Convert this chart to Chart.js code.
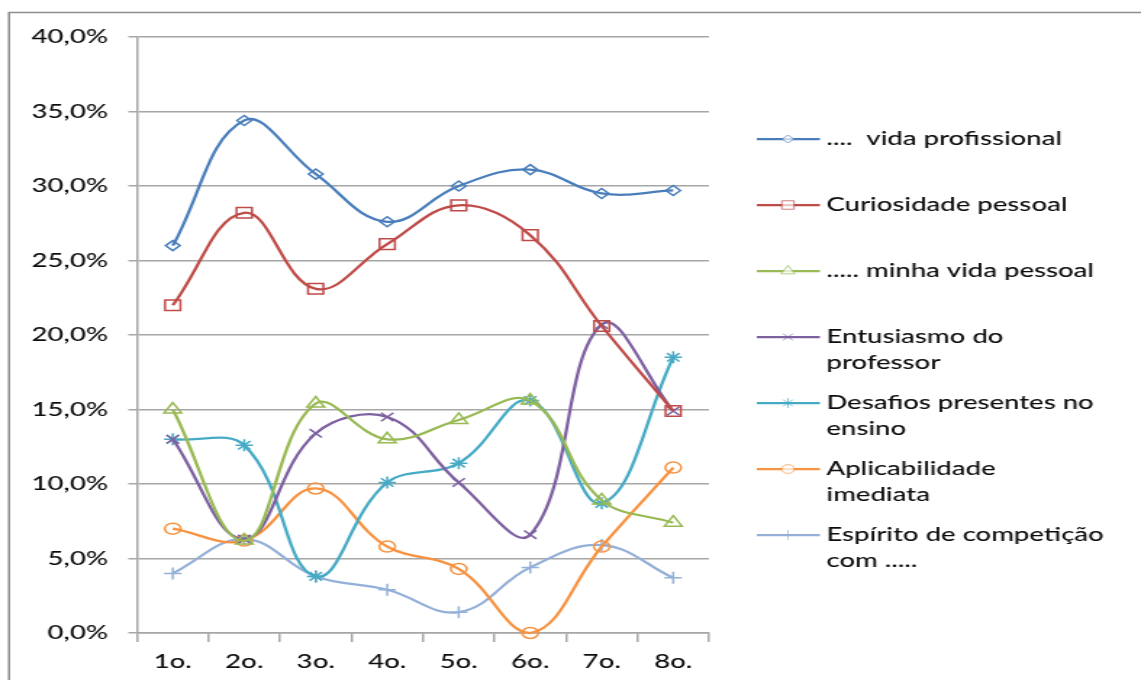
<!DOCTYPE html>
<html>
<head>
<meta charset="utf-8">
<script src="https://cdn.jsdelivr.net/npm/chart.js@4.4.0/dist/chart.umd.min.js"></script>
<style>
  html, body { margin: 0; padding: 0; background: #fff; overflow: hidden; }
  /* the reference is a horizontally stretched picture, so draw narrow and stretch */
  #wrap { width: 787px; height: 680px; transform: scaleX(1.4498); transform-origin: 0 0; }
</style>
</head>
<body>
<div id="wrap"><canvas id="myChart" width="787" height="680"></canvas></div>
<script>
const categories = ['1o.', '2o.', '3o.', '4o.', '5o.', '6o.', '7o.', '8o.'];

const vidaProfissional = [26.0, 34.4, 30.8, 27.6, 30.0, 31.1, 29.5, 29.7];
const curiosidade      = [22.0, 28.2, 23.1, 26.1, 28.7, 26.7, 20.6, 14.9];
const vidaPessoal      = [15.0, 6.2, 15.4, 13.0, 14.3, 15.6, 8.9, 7.4];
const entusiasmo       = [13.0, 6.3, 13.4, 14.5, 10.1, 6.6, 20.7, 14.9];
const desafios         = [13.0, 12.6, 3.8, 10.1, 11.4, 15.6, 8.7, 18.5];
const aplicabilidade   = [7.0, 6.2, 9.7, 5.8, 4.3, 0.0, 5.8, 11.1];
const espirito         = [4.0, 6.3, 3.8, 2.9, 1.4, 4.4, 5.9, 3.7];

const seriesNames = [
  '....  vida profissional',
  'Curiosidade pessoal',
  '..... minha vida pessoal',
  'Entusiasmo do\nprofessor',
  'Desafios presentes no\nensino',
  'Aplicabilidade\nimediata',
  'Espírito de competição\ncom .....'
];

const FONT = 'Lato';
const textColor = '#0d0d0d';
const gridColor = '#a6a6a6';

function series(label, data, color, pointStyle, radius) {
  return {
    label: label,
    data: data,
    borderColor: color,
    backgroundColor: color,
    borderWidth: 2.25,
    pointStyle: pointStyle,
    pointRadius: radius,
    pointBorderWidth: 1.5,
    pointBorderColor: color,
    pointBackgroundColor: 'rgba(255,255,255,0)',
    tension: 0.4,
    fill: false,
    clip: false
  };
}

const datasets = [
  series(seriesNames[0], vidaProfissional, '#4a7ebb', 'rectRot', 5),
  series(seriesNames[1], curiosidade, '#be4b48', 'rect', 7.5),
  series(seriesNames[2], vidaPessoal, '#98b954', 'triangle', 7),
  series(seriesNames[3], entusiasmo, '#7d60a0', 'crossRot', 6),
  series(seriesNames[4], desafios, '#46aac5', 'star', 6),
  series(seriesNames[5], aplicabilidade, '#f69240', 'circle', 5.5),
  series(seriesNames[6], espirito, '#94b0d8', 'cross', 6)
];

// grey frame on the top and left edge
const framePlugin = {
  id: 'frame',
  beforeDraw(chart) {
    const ctx = chart.ctx;
    ctx.save();
    ctx.strokeStyle = '#8c8c8c';
    ctx.lineWidth = 1.5;
    ctx.beginPath();
    ctx.moveTo(6.2, chart.height);
    ctx.lineTo(6.2, 12.5);
    ctx.lineTo(chart.width, 12.5);
    ctx.stroke();
    ctx.restore();
  }
};

// legend on the right, with wrapped labels
const sideLegend = {
  id: 'sideLegend',
  afterDraw(chart) {
    const ctx = chart.ctx;
    ctx.save();
    ctx.font = '500 19px ' + FONT;
    ctx.textBaseline = 'middle';
    chart.data.datasets.forEach((ds, i) => {
      const y = 139 + i * 66;
      ctx.strokeStyle = ds.borderColor;
      ctx.lineWidth = 2.25;
      ctx.beginPath();
      ctx.moveTo(522, y);
      ctx.lineTo(565.5, y);
      ctx.stroke();
      ctx.globalAlpha = 0.7;
      ctx.fillStyle = '#ffffff';
      ctx.lineWidth = 1;
      Chart.helpers.drawPoint(ctx, { pointStyle: ds.pointStyle, radius: ds.pointRadius * 0.8, borderWidth: 1 }, 543.5, y);
      ctx.globalAlpha = 1;
      ctx.fillStyle = textColor;
      ds.label.split('\n').forEach((t, k) => ctx.fillText(t, 570, y + k * 25.5));
    });
    ctx.restore();
  }
};

new Chart(document.getElementById('myChart'), {
  type: 'line',
  data: { labels: categories, datasets: datasets },
  options: {
    responsive: false,
    animation: false,
    layout: { padding: { left: 0, right: 298, top: 37, bottom: 0 } },
    plugins: {
      legend: { display: false },
      tooltip: { enabled: false }
    },
    scales: {
      x: {
        offset: true,
        grid: { drawOnChartArea: false, drawTicks: true, tickLength: 9, color: gridColor, lineWidth: 1.5, offset: true },
        border: { color: gridColor, width: 1.5 },
        ticks: { padding: 8, color: textColor, font: { family: FONT, size: 19, weight: 500 } },
        afterFit: s => { s.height = 47; }
      },
      y: {
        min: 0,
        max: 40,
        ticks: {
          stepSize: 5,
          padding: 14,
          color: textColor,
          font: { family: FONT, size: 19, weight: 500 },
          callback: v => v.toFixed(1).replace('.', ',') + '%'
        },
        grid: { color: gridColor, lineWidth: 1.5, tickLength: 6 },
        border: { color: gridColor, width: 1.5 },
        afterFit: s => { s.width = 94.5; }
      }
    }
  },
  plugins: [framePlugin, sideLegend]
});
</script>
</body>
</html>
